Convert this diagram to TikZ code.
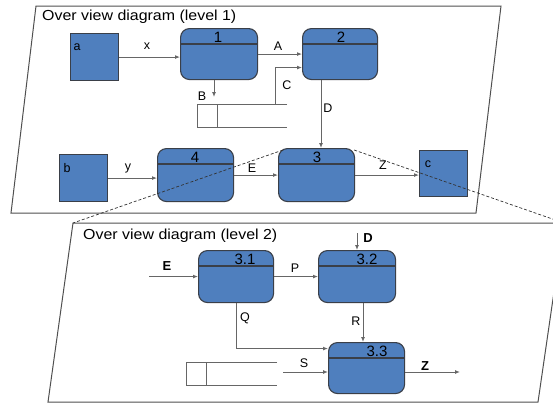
\documentclass[tikz,border=0pt]{standalone}
\usepackage{fontspec}
\setmainfont{Liberation Sans}
\usetikzlibrary{arrows.meta}
\definecolor{boxblue}{HTML}{4F7FBE}
\definecolor{boxedge}{HTML}{3A3F48}
\definecolor{flowgray}{HTML}{666666}
\definecolor{frame}{HTML}{505050}
\tikzset{
  proc/.style={draw=boxedge, fill=boxblue, rounded corners=9pt, line width=1.1pt, anchor=north west, inner sep=0pt},
  ext/.style={draw=boxedge, fill=boxblue, line width=1.1pt, anchor=north west, inner sep=0pt},
  flow/.style={draw=flowgray, line width=1pt, -{Latex[length=5pt,width=4pt]}},
  plain/.style={draw=flowgray, line width=1pt},
  lbl/.style={font=\fontsize{12.5}{12.5}\selectfont, inner sep=0pt},
  blbl/.style={font=\fontsize{13}{13}\selectfont\bfseries, inner sep=0pt},
  num/.style={font=\fontsize{15}{15}\selectfont, inner sep=0pt, text=black},
  ttl/.style={font=\fontsize{14.5}{14.5}\selectfont, inner sep=0pt, anchor=base west, xscale=1.1},
  pane/.style={draw=frame, line width=1pt, fill=white},
  zoomline/.style={draw=black!80, line width=0.7pt, dash pattern=on 3pt off 2pt},
}
\begin{document}
\begin{tikzpicture}[x=1pt,y=-1pt]
\useasboundingbox (0,0) rectangle (553,405);
\clip (0,0) rectangle (553,405);
% panes
\coordinate (l1a) at (36,6);
\coordinate (l1b) at (501,6);
\coordinate (l1c) at (476,213);
\coordinate (l1d) at (11,213);
\coordinate (l2a) at (73,223);
\coordinate (l2b) at (564,223);
\coordinate (l2c) at (538,402);
\coordinate (l2d) at (48,402);
\draw[pane] (l1a) -- (l1b) -- (l1c) -- (l1d) -- cycle;
\draw[pane] (l2a) -- (l2b) -- (l2c) -- (l2d) -- cycle;
\node[ttl] (t1) at (42,20) {Over view diagram (level 1)};
\node[ttl] (t2) at (83,239) {Over view diagram (level 2)};

% level 1 nodes
\node[ext, minimum width=48pt, minimum height=47pt] (a) at (70,33) {};
\node[ext, minimum width=48pt, minimum height=47pt] (b) at (59,154) {};
\node[ext, minimum width=48pt, minimum height=46pt] (c) at (419,150) {};
\node[lbl] (la) at (77,47) {a};
\node[lbl] (lb) at (67,168) {b};
\node[lbl] (lc) at (428,164) {c};

\node[proc, minimum width=77pt, minimum height=51pt] (p1) at (180,28) {};
\node[proc, minimum width=75pt, minimum height=51pt] (p2) at (302,28) {};
\node[proc, minimum width=76pt, minimum height=53pt] (p3) at (278,148) {};
\node[proc, minimum width=76pt, minimum height=53pt] (p4) at (157,148) {};
\foreach \n in {p1,p2,p3,p4}{
  \draw[boxedge, line width=1.1pt] ([yshift=-16pt]\n.north west) -- ([yshift=-16pt]\n.north east);
}
\node[num] (n1) at (218,37) {1};
\node[num] (n2) at (341,37) {2};
\node[num] (n3) at (317,157) {3};
\node[num] (n4) at (195,157) {4};

% data store level 1
\coordinate (s1a) at (197,104);
\coordinate (s1b) at (287,104);
\coordinate (s1c) at (197,127);
\coordinate (s1d) at (287,127);
\draw[plain] (s1b) -- (s1a) -- (s1c) -- (s1d);
\draw[plain] (217,104) -- (217,127);

% level 1 flows
\draw[flow] (a.east) -- (a.east -| p1.west);
\node[lbl] (lx) at (147,46) {x};
\draw[flow] (p1.east) -- (p2.west);
\node[lbl] (lA) at (278,46) {A};
\coordinate (bend) at (214,97);
\draw[flow] (p1.south -| bend) -- (bend);
\node[lbl] (lB) at (202,96) {B};
\coordinate (cstart) at (275,104);
\draw[flow] (cstart) |- ([yshift=-13.5pt]p2.west);
\node[lbl] (lC) at (287,85) {C};
\coordinate (dx) at (321,0);
\draw[flow] (p2.south -| dx) -- (p3.north -| dx);
\node[lbl] (lD) at (328,108) {D};
\draw[flow] (b.east) -- (b.east -| p4.west);
\node[lbl] (ly) at (128,168) {y};
\draw[flow] (p4.east) -- (p3.west);
\node[lbl] (lE) at (252,168) {E};
\draw[flow] (p3.east) -- (p3.east -| c.west);
\node[lbl] (lZ) at (383,165) {Z};

% level 2 nodes
\node[proc, minimum width=75pt, minimum height=52pt] (p31) at (198,250) {};
\node[proc, minimum width=77pt, minimum height=52pt] (p32) at (318,250) {};
\node[proc, minimum width=76pt, minimum height=51pt] (p33) at (328,342) {};
\foreach \n in {p31,p32,p33}{
  \draw[boxedge, line width=1.1pt] ([yshift=-16pt]\n.north west) -- ([yshift=-16pt]\n.north east);
}
\node[num] (n31) at (245,259) {3.1};
\node[num] (n32) at (367,259) {3.2};
\node[num] (n33) at (377,351) {3.3};

% data store level 2
\coordinate (s2a) at (186,362);
\coordinate (s2b) at (277,362);
\coordinate (s2c) at (186,385);
\coordinate (s2d) at (277,385);
\draw[plain] (s2b) -- (s2a) -- (s2c) -- (s2d);
\draw[plain] (206,362) -- (206,385);

% level 2 flows
\coordinate (ein) at (149,0);
\draw[flow] (p31.west -| ein) -- (p31.west);
\node[blbl] (lE2) at (167,266) {E};
\draw[flow] (p31.east) -- (p32.west);
\node[lbl] (lP) at (295,268) {P};
\coordinate (din) at (357,233);
\draw[flow] (din) -- (din |- p32.north);
\node[blbl] (lD2) at (368,238) {D};
\coordinate (rx) at (363,0);
\draw[flow] (p32.south -| rx) -- (p33.north -| rx);
\node[lbl] (lR) at (356,321) {R};
\coordinate (qx) at (236,0);
\draw[flow] (p31.south -| qx) |- ([yshift=19.5pt]p33.west);
\node[lbl] (lQ) at (245,318) {Q};
\coordinate (sin) at (283,372);
\draw[flow] (sin) -- (sin -| p33.west);
\node[lbl] (lS) at (304,363) {S};
\coordinate (zout) at (460,372);
\draw[flow] (zout -| p33.east) -- (zout);
\node[blbl] (lZ2) at (425,366) {Z};

% zoom lines
\draw[zoomline] (p3.north west) ++(5,2) coordinate (zl) -- (l2a);
\draw[zoomline] (p3.north east) ++(-1,2) coordinate (zr) -- (l2b);
\end{tikzpicture}
\end{document}
